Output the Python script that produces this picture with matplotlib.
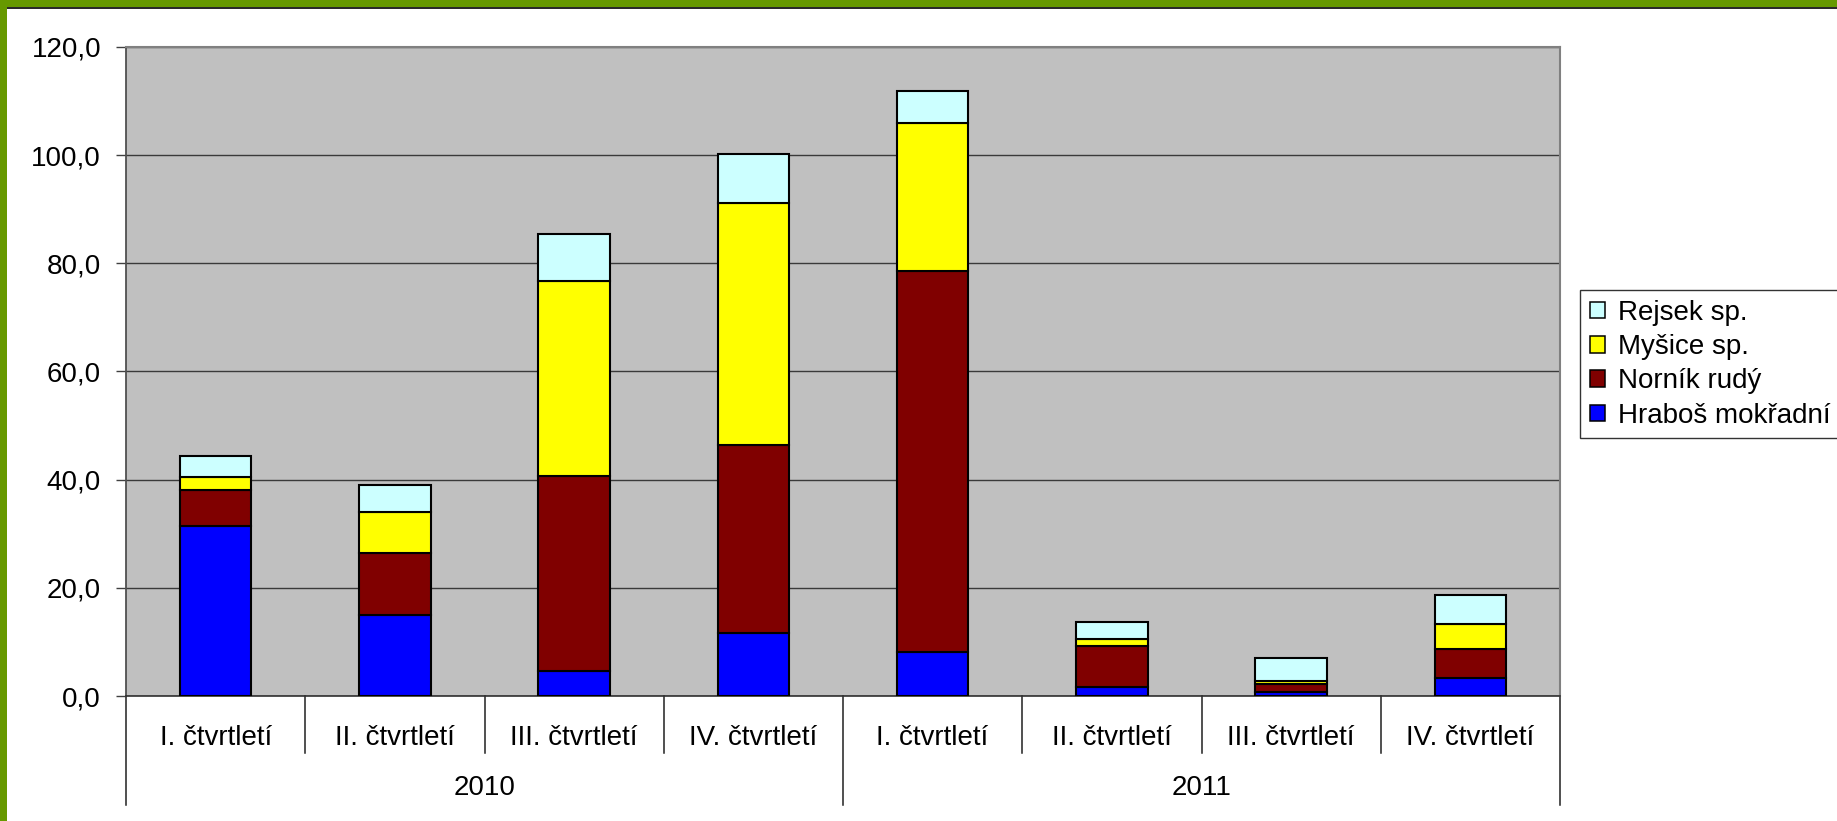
import numpy as np
import matplotlib
matplotlib.use('Agg')
import matplotlib.pyplot as plt
import matplotlib.transforms as mtransforms
from matplotlib.patches import Patch, Rectangle
from matplotlib.lines import Line2D

plt.rcParams['font.family'] = ['Liberation Sans', 'DejaVu Sans']

# data
quarters = ['I. čtvrtletí', 'II. čtvrtletí', 'III. čtvrtletí', 'IV. čtvrtletí',
            'I. čtvrtletí', 'II. čtvrtletí', 'III. čtvrtletí', 'IV. čtvrtletí']
years = ['2010', '2011']
series_names = ['Hraboš mokřadní', 'Norník rudý', 'Myšice sp.', 'Rejsek sp.']
hrabos = [31.4, 14.9, 4.6, 11.7, 8.2, 1.7, 0.8, 3.3]
nornik = [6.7, 11.6, 36.0, 34.7, 70.3, 7.5, 1.4, 5.4]
mysice = [2.4, 7.5, 36.2, 44.8, 27.5, 1.3, 0.6, 4.6]
rejsek = [3.9, 5.0, 8.6, 9.1, 5.9, 3.2, 4.3, 5.4]
colors = ['#0000FF', '#800000', '#FFFF00', '#CCFFFF']

W, H = 1837, 821
fs = 20
fig = plt.figure(figsize=(W / 100, H / 100), dpi=100)
fig.patch.set_facecolor('white')

# green frame
fig.add_artist(Rectangle((0, 1 - 7 / H), 1, 7 / H, transform=fig.transFigure,
                         facecolor='#669900', edgecolor='none'))
fig.add_artist(Rectangle((7 / W, 1 - 9 / H), 1, 2 / H, transform=fig.transFigure,
                         facecolor='#2a2a2a', edgecolor='none'))
fig.add_artist(Rectangle((0, 0), 7 / W, 1, transform=fig.transFigure,
                         facecolor='#669900', edgecolor='none'))

ax = fig.add_axes([126 / W, 125 / H, 1434 / W, 649 / H])
ax.set_facecolor('#C0C0C0')

x = np.arange(len(quarters)) + 0.5
bottom = np.zeros(len(quarters))
for vals, c, name in zip([hrabos, nornik, mysice, rejsek], colors, series_names):
    ax.bar(x, vals, width=0.4, bottom=bottom, color=c, edgecolor='black',
           linewidth=1.5, label=name, zorder=3)
    bottom = bottom + np.array(vals)

ax.set_xlim(0, len(quarters))
ax.set_ylim(0, 120)
ax.set_yticks(np.arange(0, 121, 20))
ax.set_yticklabels([f'{v:.1f}'.replace('.', ',') for v in np.arange(0, 121, 20)],
                   fontsize=fs)
ax.yaxis.grid(True, color='#3a3a3a', linewidth=1.0, zorder=0)
ax.set_axisbelow(True)
ax.tick_params(axis='y', direction='out', length=7, width=1, color='#404040', pad=11)
ax.tick_params(axis='x', length=0, labelbottom=False)

for s in ['top', 'right']:
    ax.spines[s].set_color('#808080')
    ax.spines[s].set_linewidth(1.5)
ax.spines['left'].set_color('#505050')
ax.spines['left'].set_linewidth(1.3)
ax.spines['bottom'].set_color('#303030')
ax.spines['bottom'].set_linewidth(1.2)

# category axis (quarters / years)
trans = mtransforms.blended_transform_factory(ax.transData, ax.transAxes)
q_bot = -57 / 649
y_bot = -109 / 649
for i in range(len(quarters) + 1):
    yb = y_bot if i % 4 == 0 else q_bot
    ax.add_line(Line2D([i, i], [0, yb], transform=trans, color='#202020',
                       linewidth=1.1, clip_on=False))
for xi, lab in zip(x, quarters):
    ax.text(xi, -42 / 649, lab, transform=trans, ha='center', va='center', fontsize=fs)
for j, yr in enumerate(years):
    ax.text(4 * j + 2, -92 / 649, yr, transform=trans, ha='center', va='center', fontsize=fs)

# legend
handles = [Patch(facecolor=c, edgecolor='black', linewidth=1.1) for c in colors][::-1]
leg = fig.legend(handles, series_names[::-1], loc='upper left',
                 bbox_to_anchor=(1580 / W, 1 - 290 / H), bbox_transform=fig.transFigure,
                 fontsize=fs, frameon=True, fancybox=False, shadow=False,
                 borderaxespad=0, borderpad=0.35, handlelength=0.55, handleheight=0.55,
                 handletextpad=0.45, labelspacing=0.3)
leg.get_frame().set_edgecolor('black')
leg.get_frame().set_linewidth(1.0)

fig.savefig('out.png', dpi=100, facecolor='white')
